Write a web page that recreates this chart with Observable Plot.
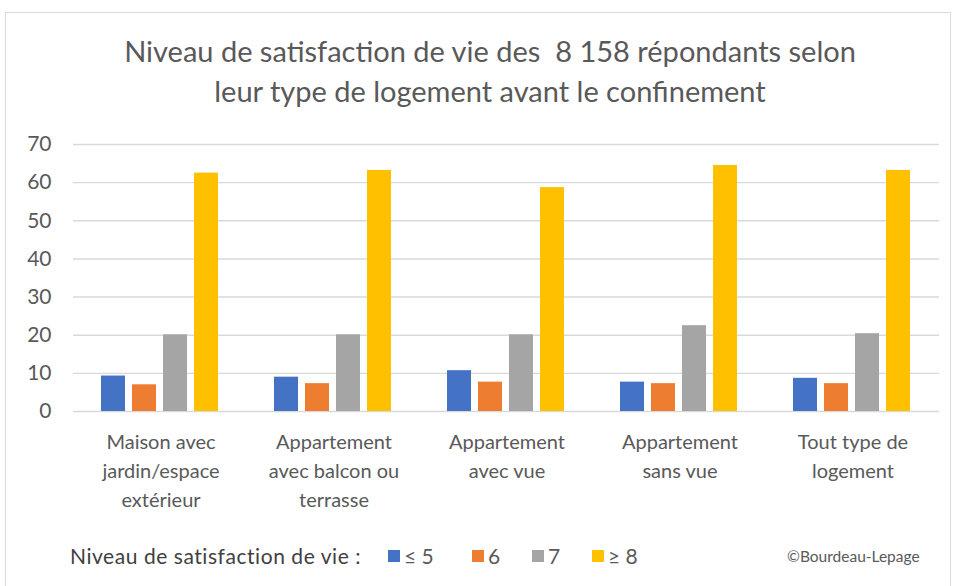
<!DOCTYPE html>
<html>
<head>
<meta charset="utf-8">
<script src="https://cdn.jsdelivr.net/npm/d3@7"></script>
<script src="https://cdn.jsdelivr.net/npm/@observablehq/plot@0.6"></script>
<style>
  html, body { margin: 0; padding: 0; background: #fff; overflow: hidden; }
  #wrap { position: relative; width: 955px; height: 586px; font-family: Lato, "Open Sans", sans-serif; color: #595959; }
  #frame { position: absolute; left: 5px; top: 12px; width: 946px; height: 620px; border: 1px solid #d9d9d9; box-sizing: border-box; }
  #title { position: absolute; left: 0; width: 980px; top: 31px; text-align: center; font-size: 29px; line-height: 40px; color: #595959; }
  .layer { position: absolute; left: 0; top: 0; }
  #legendTitle { position: absolute; left: 70px; top: 543px; font-size: 21px; letter-spacing: 0.55px; color: #404040; white-space: pre; }
  .sw { position: absolute; top: 550px; width: 12px; height: 12px; }
  .lab { position: absolute; top: 543px; font-size: 21px; color: #595959; white-space: pre; }
  #credit { position: absolute; left: 787px; top: 547px; font-size: 15.5px; color: #595959; }
</style>
</head>
<body>
<div id="wrap">
  <div id="frame"></div>
  <div id="title">Niveau de satisfaction de vie des&nbsp; 8 158 répondants selon<br>leur type de logement avant le confinement</div>
  <div id="bg" class="layer"></div>
  <div id="fg" class="layer"></div>
  <div id="legendTitle"></div>
  <div id="credit">©Bourdeau-Lepage</div>
</div>
<script>
const categories = [
  "Maison avec\njardin/espace\nextérieur",
  "Appartement\navec balcon ou\nterrasse",
  "Appartement\navec vue",
  "Appartement\nsans vue",
  "Tout type de\nlogement"
];
const levels = ["≤ 5", "6", "7", "≥ 8"];
const colors = ["#4472C4", "#ED7D31", "#A5A5A5", "#FFC000"];
const valuesLe5 = [9.3, 9.0, 10.7, 7.7, 8.7];
const values6 = [7.0, 7.3, 7.7, 7.3, 7.3];
const values7 = [20.1, 20.1, 20.1, 22.5, 20.4];
const valuesGe8 = [62.5, 63.2, 58.7, 64.5, 63.2];
const yTicks = [0, 10, 20, 30, 40, 50, 60, 70];
const legendTitle = "Niveau de satisfaction de vie :";

const series = [valuesLe5, values6, values7, valuesGe8];
const rows = [];
categories.forEach((c, i) => levels.forEach((l, j) => rows.push({cat: c, level: l, value: series[j][i]})));

const W = 955, H = 586;
const margins = {marginTop: 144, marginBottom: 175, marginLeft: 73, marginRight: 16};
const font = "Lato, 'Open Sans', sans-serif";

const bg = Plot.plot({
  width: W, height: H, ...margins,
  style: {fontFamily: font, fontSize: "20px", color: "#595959", background: "transparent"},
  x: {type: "band", domain: categories, padding: 0, axis: null},
  y: {domain: [0, 70], axis: null},
  marks: [
    Plot.ruleY(yTicks, {stroke: "#d9d9d9", strokeWidth: 1.4}),
    Plot.axisY(yTicks, {tickSize: 0, tickPadding: 22, fontSize: 21, fill: "#595959"}),
    Plot.axisX({tickSize: 0, tickPadding: 17, lineHeight: 1.45, fontSize: 20, fill: "#595959", tickFormat: d => d})
  ]
});
document.getElementById("bg").appendChild(bg);

const fg = Plot.plot({
  width: W, height: H, ...margins,
  style: {fontFamily: font, background: "transparent"},
  fx: {domain: categories, paddingInner: 0.31, paddingOuter: 0.155, axis: null, label: null},
  x: {domain: levels, paddingInner: 0.23, paddingOuter: 0, axis: null},
  y: {domain: [0, 70], axis: null},
  color: {domain: levels, range: colors},
  marks: [
    Plot.barY(rows, {fx: "cat", x: "level", y: "value", fill: "level"})
  ]
});
document.getElementById("fg").appendChild(fg);

document.getElementById("legendTitle").textContent = legendTitle;
const wrap = document.getElementById("wrap");
const swatchLeft = [388, 472, 532, 592];
levels.forEach((l, j) => {
  const sw = document.createElement("div");
  sw.className = "sw";
  sw.style.left = swatchLeft[j] + "px";
  sw.style.background = colors[j];
  wrap.appendChild(sw);
  const lab = document.createElement("div");
  lab.className = "lab";
  lab.style.left = (swatchLeft[j] + 16) + "px";
  lab.textContent = l;
  wrap.appendChild(lab);
});
</script>
</body>
</html>
